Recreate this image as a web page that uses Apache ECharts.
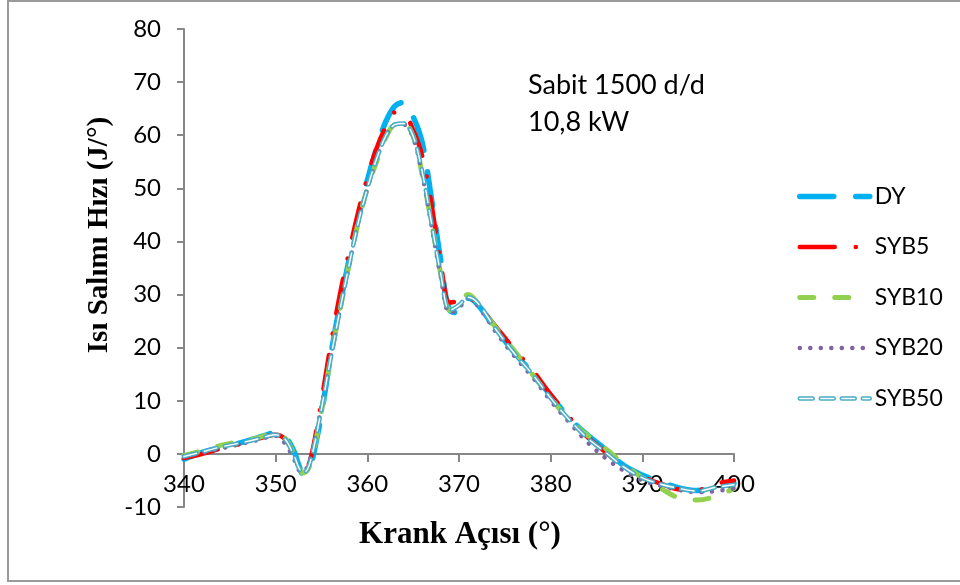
<!DOCTYPE html>
<html>
<head>
<meta charset="utf-8">
<script src="https://cdn.jsdelivr.net/npm/echarts@6/dist/echarts.min.js"></script>
<style>
  html, body { margin: 0; padding: 0; background: #fff; }
  #chart { width: 960px; height: 585px; }
</style>
</head>
<body>
<div id="chart"></div>
<script>
// Crank angle (degrees) at which every series is sampled
const angles = [340, 342, 344, 346, 348, 349, 350, 351, 352, 352.5, 353, 353.5, 354, 354.5, 355,
  356, 357, 358, 359, 360, 361, 362, 363, 364, 365, 366, 367, 368, 369, 370, 371, 372,
  374, 376, 378, 380, 382, 384, 386, 388, 390, 392, 394, 396, 398, 400];

// Heat release rate (J/°) per fuel blend
const dy = [-1.0, 0.3, 1.2, 2.0, 3.0, 3.6, 4.0, 3.3, 0.5, -2.0, -3.8, -3.5, -1.0, 3.0, 7.5,
  18.5, 28, 36.5, 44.5, 51.5, 57.5, 62.5, 65.5, 66.2, 63.5, 58.5, 48, 36.5, 27, 26.6, 29.3, 28.2,
  23.5, 19.2, 15.2, 11, 6.8, 3.6, 0.8, -2.2, -4, -5.3, -6.4, -6.9, -6.3, -5.5];
const syb5 = [-0.8, 0.0, 1.0, 1.8, 2.8, 3.3, 3.6, 2.8, -0.2, -2.5, -3.6, -2.5, 0.5, 5, 10,
  20.5, 30, 38, 45.5, 52, 57.5, 61.5, 64.3, 64, 61, 56, 47, 36, 28.5, 28.8, 29.5, 28.2,
  24, 19.8, 15.8, 11.2, 7, 3.2, 0.3, -2.5, -4.3, -5.6, -6.7, -6.8, -5.6, -5];
const syb10 = [-0.3, 0.6, 1.6, 2.3, 3.0, 3.5, 3.7, 3.0, 0.0, -2.2, -3.6, -3.0, -0.5, 3.5, 8,
  18, 27, 35.5, 43.5, 50, 55, 59.5, 62, 62.2, 59.8, 52.5, 43.5, 34, 27, 28.5, 30, 28.5,
  23.8, 19.5, 15, 10.5, 6.5, 3.5, 1.0, -2, -4.5, -6.5, -8.3, -8.7, -8.0, -6.5];
const syb20 = [-0.5, 0.2, 1.0, 1.8, 2.6, 3.1, 3.4, 2.0, -1.0, -3.0, -3.5, -2.2, 0.5, 4.5, 9,
  18, 27, 35.5, 43.5, 50, 55.5, 59.8, 62, 62, 59.5, 52.5, 43, 33.5, 26.5, 27.5, 29.3, 28,
  23, 18.5, 14.5, 10, 6, 2.2, -0.8, -3.2, -5.0, -6.0, -6.8, -7.2, -7.0, -6.5];
const syb50 = [-0.5, 0.4, 1.3, 2.0, 2.8, 3.3, 3.6, 2.8, -0.3, -2.5, -3.6, -2.8, 0, 4, 8.5,
  18, 27, 35.5, 43.5, 50, 55.5, 59.8, 62, 62.2, 59.8, 53, 43.5, 34, 27, 28, 29.5, 28.5,
  23.5, 19, 15, 10.5, 6.5, 3, 0.3, -2.5, -4.5, -5.7, -6.5, -7, -6.3, -5.8];

const seriesNames = ['DY', 'SYB5', 'SYB10', 'SYB20', 'SYB50'];
const xTicks = { min: 340, max: 400, step: 10 };
const yTicks = { min: -10, max: 80, step: 10 };

const pts = ys => angles.map((a, i) => [a, ys[i]]);

const labelFont = 'Lato';
const axisGray = '#868686';

// plot box
const gridBox = { left: 184, right: 226, top: 29, bottom: 78 };
const plotHeight = 585 - gridBox.top - gridBox.bottom;
// lift the angle axis so it runs along y = 0
const xAxisOffset = -((0 - yTicks.min) / (yTicks.max - yTicks.min)) * plotHeight;

function lineSeries(name, ys, color, width, dash, z) {
  return {
    name: name,
    type: 'line',
    data: pts(ys),
    smooth: 0.35,
    symbol: 'none',
    z: z,
    itemStyle: { color: color },
    lineStyle: { color: color, width: width, type: dash, cap: 'round', join: 'round' },
    emphasis: { disabled: true }
  };
}

const chart = echarts.init(document.getElementById('chart'), null, { renderer: 'canvas' });

chart.setOption({
  animation: false,
  backgroundColor: '#ffffff',
  grid: Object.assign({ containLabel: false }, gridBox),
  xAxis: {
    type: 'value',
    min: xTicks.min, max: xTicks.max, interval: xTicks.step,
    offset: xAxisOffset,
    axisLine: { show: true, onZero: false, lineStyle: { color: axisGray, width: 2 } },
    axisTick: { show: true, inside: false, length: 8, lineStyle: { color: axisGray, width: 2 } },
    axisLabel: { color: '#000', fontFamily: labelFont, fontSize: 24, margin: 18 },
    splitLine: { show: false }
  },
  yAxis: {
    type: 'value',
    min: yTicks.min, max: yTicks.max, interval: yTicks.step,
    axisLine: { show: true, onZero: false, lineStyle: { color: axisGray, width: 2 } },
    axisTick: { show: true, inside: false, length: 7, lineStyle: { color: axisGray, width: 2 } },
    axisLabel: { color: '#000', fontFamily: labelFont, fontSize: 24, margin: 23 },
    splitLine: { show: false }
  },
  legend: {
    data: seriesNames,
    orient: 'vertical',
    left: 792,
    top: 180,
    itemWidth: 70,
    itemHeight: 16,
    itemGap: 27.5,
    textStyle: { color: '#000', fontFamily: labelFont, fontSize: 23 },
    itemStyle: { opacity: 0, borderWidth: 0 },
    lineStyle: { width: 'inherit', type: 'inherit', cap: 'inherit' },
    selectedMode: false
  },
  series: [
    lineSeries('DY', dy, '#00B0F0', 5.5, [34, 22], 2),
    lineSeries('SYB5', syb5, '#FF0000', 4.5, [35, 21, 0.1, 21], 3),
    lineSeries('SYB10', syb10, '#92D050', 5, [14, 21], 4),
    lineSeries('SYB20', syb20, '#8064A2', 4.5, [0.1, 10.4], 5),
    lineSeries('SYB50', syb50, '#4BACC6', 4.5, [13, 8], 6),
    // white core that makes the SYB50 dashes look hollow
    lineSeries('SYB50', syb50, '#FFFFFF', 1.4, [13, 8], 7)
  ],
  graphic: [
    {
      id: 'frame',
      type: 'rect',
      shape: { x: 8, y: 1, width: 960, height: 580 },
      style: { fill: null, stroke: '#9a9a9a', lineWidth: 2 },
      silent: true, z: 0
    },
    {
      id: 'note',
      type: 'text',
      left: 528, top: 67,
      style: {
        text: 'Sabit 1500 d/d\n10,8 kW',
        font: '27px Lato',
        fill: '#000',
        lineHeight: 37
      },
      z: 10
    },
    {
      id: 'xTitle',
      type: 'text',
      x: 460, y: 535,
      style: {
        text: 'Krank Açısı (°)',
        font: 'bold 31px "Liberation Serif"',
        fill: '#000',
        textAlign: 'center',
        textVerticalAlign: 'middle'
      },
      z: 10
    },
    {
      id: 'yTitle',
      type: 'text',
      x: 100, y: 235,
      rotation: Math.PI / 2,
      style: {
        text: 'Isı Salımı Hızı (J/°)',
        font: 'bold 29px "Liberation Serif"',
        fill: '#000',
        textAlign: 'center',
        textVerticalAlign: 'middle'
      },
      z: 10
    }
  ]
});

// Hollow core for the SYB50 legend sample, placed over the legend icon
function addLegendCore() {
  const legend = chart.getModel().getComponent('legend');
  const view = chart.getViewOfComponentModel ? chart.getViewOfComponentModel(legend) : null;
  if (!view || !view.getContentGroup) return;
  const item = view.getContentGroup().childAt(4);
  if (!item) return;
  const m = item.getComputedTransform ? item.getComputedTransform() : item.transform;
  const gx = m ? m[4] : 0;
  const gy = m ? m[5] : 0;
  const cy = gy + 8;
  chart.setOption({
    graphic: [{
      id: 'legendCore',
      type: 'line',
      shape: { x1: gx, y1: cy, x2: gx + 70, y2: cy },
      style: { stroke: '#fff', lineWidth: 1.4, lineDash: [13, 8], lineCap: 'round' },
      silent: true, z: 200
    }]
  });
}
addLegendCore();
</script>
</body>
</html>
